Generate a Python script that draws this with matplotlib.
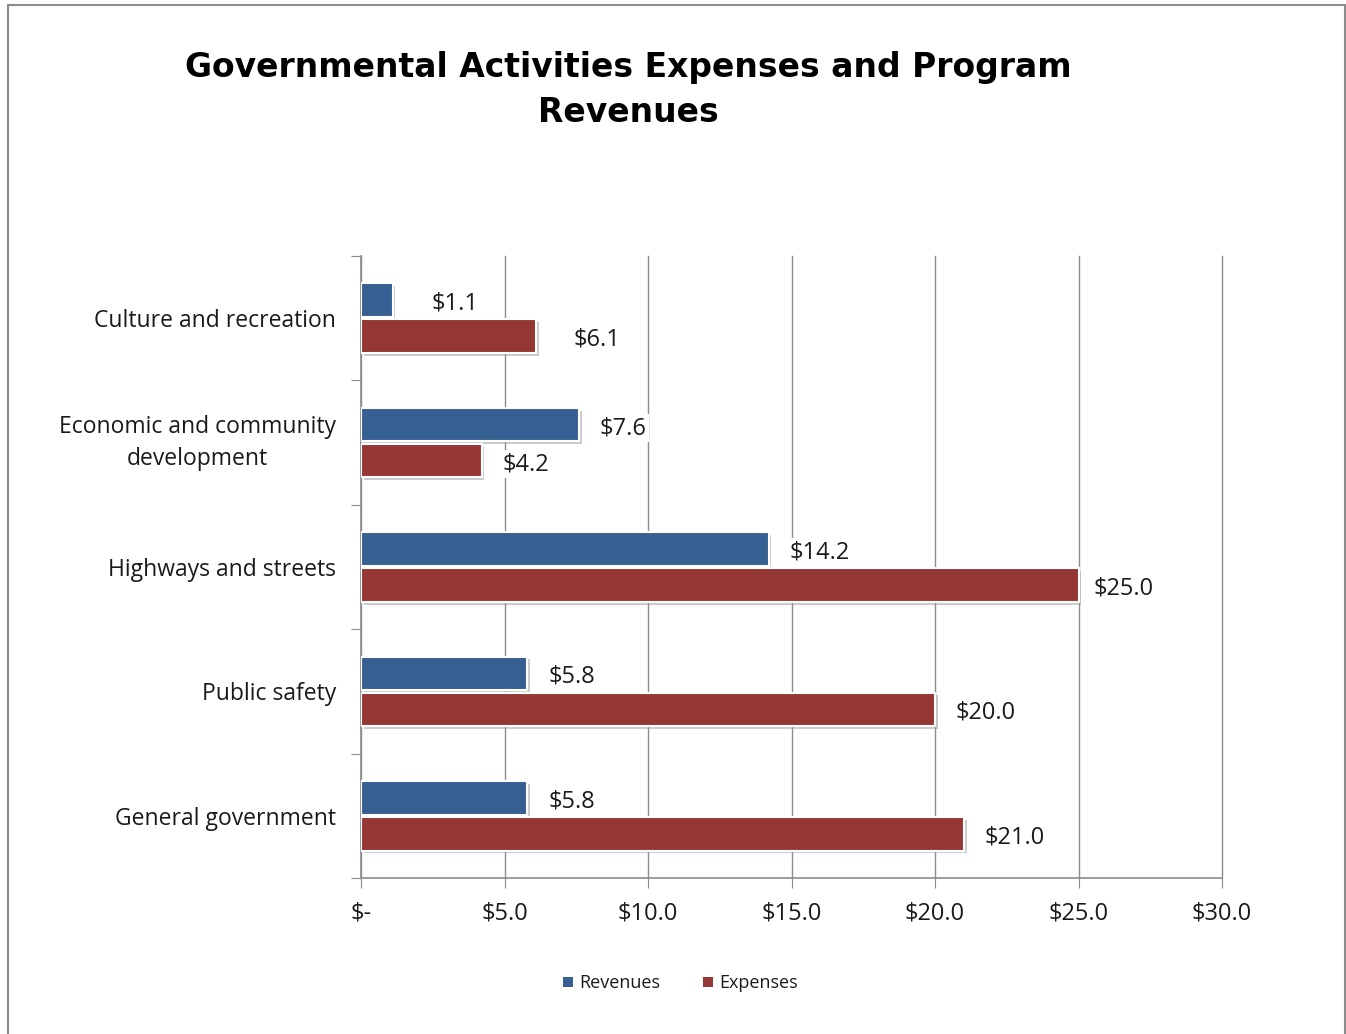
import matplotlib.pyplot as plt
import matplotlib.patheffects as pe
import numpy as np

categories = ["Culture and recreation", "Economic and community\ndevelopment",
              "Highways and streets", "Public safety", "General government"]
revenues = [1.1, 7.6, 14.2, 5.8, 5.8]
expenses = [6.1, 4.2, 25.0, 20.0, 21.0]
xticks = [0, 5, 10, 15, 20, 25, 30]
xticklabels = ["$-", "$5.0", "$10.0", "$15.0", "$20.0", "$25.0", "$30.0"]

# label offsets in points (the two smallest groups sit further out)
rev_pad = [28, 15, 15, 15, 15]
exp_pad = [27, 15, 11, 15, 15]

BLUE = "#376092"
RED = "#953735"
FONT = "Open Sans"

fig = plt.figure(figsize=(13.46, 10.34), dpi=100)
ax = fig.add_axes([0.2682, 0.1509, 0.6397, 0.6015])

# outer frame
fig.patches.append(plt.Rectangle((0.006, -0.01), 0.993, 1.005, transform=fig.transFigure,
                                 fill=False, edgecolor="#8c8c8c", linewidth=1.5))

n = len(categories)
y = np.arange(n)[::-1].astype(float)
h = 0.27
shadow = [pe.SimplePatchShadow(offset=(2, -2), shadow_rgbFace="#999999", alpha=0.5), pe.Normal()]

rb = ax.barh(y + h / 2 + 0.01, revenues, height=h, color=BLUE, edgecolor="white",
             linewidth=1.5, label="Revenues", zorder=3)
eb = ax.barh(y - h / 2 - 0.01, expenses, height=h, color=RED, edgecolor="white",
             linewidth=1.5, label="Expenses", zorder=3)
for b in list(rb) + list(eb):
    b.set_path_effects(shadow)

for bars, vals, pads in ((rb, revenues, rev_pad), (eb, expenses, exp_pad)):
    for b, v, p in zip(bars, vals, pads):
        ax.annotate(f"${v:.1f}", (v, b.get_y() + b.get_height() / 2),
                    xytext=(p, -2.5), textcoords="offset points", va="center", ha="left",
                    fontsize=17, family=FONT, color="#1a1a1a", zorder=4,
                    bbox=dict(boxstyle="square,pad=0.1", fc="white", ec="none"))

ax.set_xlim(0, 30)
ax.set_ylim(-0.5, n - 0.5)
ax.set_xticks(xticks)
ax.set_xticklabels(xticklabels, family=FONT, fontsize=17, color="#1a1a1a")
ax.xaxis.grid(True, color="#8c8c8c", linewidth=1.0, zorder=0)
for gl in ax.get_xgridlines():
    gl.set_clip_on(False)
ax.set_axisbelow(True)

# category labels between the boundary ticks
ax.set_yticks(np.arange(n + 1) - 0.5)
ax.set_yticklabels([])
ax.set_yticks(y, minor=True)
ax.set_yticklabels(categories, minor=True, family=FONT, fontsize=16.5, color="#1a1a1a",
                   multialignment="center", linespacing=1.45)
for lbl in ax.get_yticklabels(minor=True):
    if "\n" in lbl.get_text():
        lbl.set_va("center")
ax.tick_params(axis="y", which="minor", length=0, pad=18)
ax.tick_params(axis="y", which="major", length=7, color="#8c8c8c", direction="out")
ax.tick_params(axis="x", length=7, color="#8c8c8c", pad=10)

for s in ("top", "right"):
    ax.spines[s].set_visible(False)
for s in ("left", "bottom"):
    ax.spines[s].set_color("#8c8c8c")
    ax.spines[s].set_linewidth(1.2)

fig.text(0.467, 0.913, "Governmental Activities Expenses and Program\nRevenues",
         ha="center", va="center", fontsize=23.8, fontweight="bold", family="DejaVu Sans",
         linespacing=1.45)

leg = ax.legend(loc="center", bbox_to_anchor=(0.5055, 0.049), bbox_transform=fig.transFigure,
                ncol=2, frameon=False, prop={"family": FONT, "size": 13},
                handlelength=0.55, handleheight=0.55, handletextpad=0.35, columnspacing=2.4)
for hnd in leg.legend_handles:
    hnd.set_path_effects([])
    hnd.set_linewidth(0)
for t in leg.get_texts():
    t.set_color("#1a1a1a")

fig.savefig("out.png", dpi=100)
